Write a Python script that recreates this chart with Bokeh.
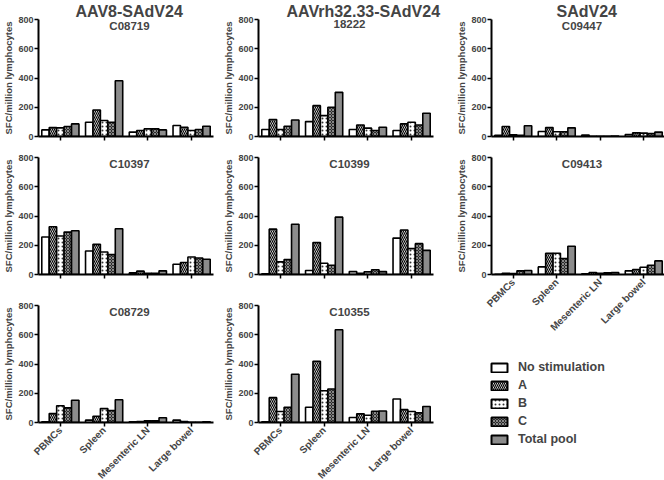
import math
from bokeh.plotting import figure
from bokeh.models import (FactorRange, Range1d, ColumnDataSource, Label, FixedTicker,
                          Legend, LegendItem, CustomJSTickFormatter)
from bokeh.transform import dodge
from bokeh.layouts import column, row
from bokeh.embed import file_html
from bokeh.resources import INLINE

tissues = ["PBMCs", "Spleen", "Mesenteric LN", "Large bowel"]
stims = ["No stimulation", "A", "B", "C", "Total pool"]
y_ticks = [0, 200, 400, 600, 800]
col_titles = ["AAV8-SAdV24", "AAVrh32.33-SAdV24", "SAdV24"]
y_label = "SFC/million lymphocytes"

# AAV8-SAdV24
C08719_none = [45, 97, 30, 75]
C08719_A = [61, 181, 41, 63]
C08719_B = [59, 109, 52, 41]
C08719_C = [68, 97, 52, 48]
C08719_total = [86, 381, 45, 70]

C10397_none = [256, 161, 11, 70]
C10397_A = [326, 206, 23, 82]
C10397_B = [263, 154, 9, 120]
C10397_C = [290, 136, 9, 113]
C10397_total = [299, 313, 25, 104]

C08729_none = [5, 16, 5, 16]
C08729_A = [61, 43, 7, 7]
C08729_B = [115, 95, 11, 2]
C08729_C = [100, 82, 11, 2]
C08729_total = [152, 156, 32, 5]

# AAVrh32.33-SAdV24
A18222_none = [48, 102, 48, 41]
A18222_A = [116, 211, 79, 86]
A18222_B = [48, 143, 57, 97]
A18222_C = [70, 200, 41, 79]
A18222_total = [113, 302, 63, 159]

C10399_none = [5, 27, 20, 249]
C10399_A = [310, 218, 9, 304]
C10399_B = [86, 77, 18, 177]
C10399_C = [102, 63, 32, 211]
C10399_total = [344, 392, 20, 165]

C10355_none = [5, 104, 34, 161]
C10355_A = [170, 419, 59, 88]
C10355_B = [75, 217, 50, 75]
C10355_C = [104, 229, 77, 66]
C10355_total = [330, 634, 79, 109]

# SAdV24
C09447_none = [9, 34, 10, 14]
C09447_A = [68, 61, 2, 25]
C09447_B = [11, 32, 2, 23]
C09447_C = [9, 32, 2, 20]
C09447_total = [73, 59, 3, 30]

C09413_none = [2, 52, 5, 25]
C09413_A = [9, 145, 14, 34]
C09413_B = [7, 145, 9, 50]
C09413_C = [25, 109, 11, 63]
C09413_total = [27, 193, 14, 93]

FONT = "Liberation Sans"
keys = ["none", "A", "B", "C", "total"]
offsets = [-0.34, -0.17, 0.0, 0.17, 0.34]
BAR_W = 0.17
styles = [
    dict(fill_color="white"),
    dict(fill_color="white", hatch_pattern="left_diagonal_line", hatch_color="black",
         hatch_scale=4, hatch_weight=1.2),
    dict(fill_color="white", hatch_pattern="dot", hatch_color="#333333",
         hatch_scale=4, hatch_weight=1.1),
    dict(fill_color="#2a2a2a", hatch_pattern="diagonal_cross", hatch_color="#b0b0b0",
         hatch_scale=3, hatch_weight=0.7),
    dict(fill_color="#8c8c8c"),
]

FH = 117          # frame height
BL = 32


def make_panel(name, vals, fw, br, bt, bb, show_labels, header=None, header_off=0):
    p = figure(x_range=FactorRange(factors=tissues), y_range=Range1d(0, 800),
               frame_width=fw, frame_height=FH, output_backend="svg",
               toolbar_location=None,
               min_border_left=BL, min_border_right=br, min_border_top=bt,
               min_border_bottom=bb)
    p.outline_line_color = None
    p.xgrid.visible = False
    p.ygrid.visible = False
    src = ColumnDataSource(dict(tissue=tissues, **{k: v for k, v in zip(keys, vals)}))
    for k, off, st in zip(keys, offsets, styles):
        p.vbar(x=dodge("tissue", off, range=p.x_range), top=k, bottom=0, width=BAR_W,
               source=src, line_color="black", line_width=1.6, **st)
    ya = p.yaxis[0]
    ya.ticker = FixedTicker(ticks=y_ticks)
    ya.minor_tick_line_color = None
    ya.axis_line_width = 2
    ya.major_tick_line_width = 1.5
    ya.major_tick_out = 4
    ya.major_tick_in = 0
    ya.major_label_standoff = 1
    ya.major_label_text_font = FONT
    ya.major_label_text_font_style = "bold"
    ya.major_label_text_font_size = "9px"
    ya.axis_label = y_label
    ya.axis_label_text_font = FONT
    ya.axis_label_text_font_style = "bold"
    ya.axis_label_text_font_size = "9.5px"
    ya.axis_label_standoff = 1
    xa = p.xaxis[0]
    xa.axis_line_width = 2
    xa.major_tick_line_width = 1.5
    xa.major_tick_out = 4
    xa.major_tick_in = 0
    xa.major_label_standoff = 2
    xa.major_label_text_font = FONT
    xa.major_label_text_font_style = "bold"
    xa.major_label_text_font_size = "10px"
    if show_labels:
        xa.major_label_orientation = math.pi / 4
    else:
        xa.formatter = CustomJSTickFormatter(code="return '';")
    p.add_layout(Label(x=2.08, y=800, text=name, text_align="center", text_baseline="top",
                       text_font=FONT, text_font_style="bold", text_font_size="11.5px"))
    if header:
        p.title.text = header
        p.title.align = "left"
        p.title.offset = header_off
        p.title.standoff = 0
        p.title.text_font = FONT
        p.title.text_font_style = "bold"
        p.title.text_font_size = "16px"
    return p


def vals(prefix):
    g = globals()
    return [g[prefix + "_" + k] for k in keys]


FW1, BR1 = 175, 7
FW2, BR2 = 175, 20
FW3, BR3 = 174, 1

col1 = column(
    make_panel("C08719", vals("C08719"), FW1, BR1, 18, 12, False, col_titles[0], 37),
    make_panel("C10397", vals("C10397"), FW1, BR1, 9, 14, False),
    make_panel("C08729", vals("C08729"), FW1, BR1, 17, 56, True),
)
col2 = column(
    make_panel("18222", vals("A18222"), FW2, BR2, 18, 12, False, col_titles[1], 28),
    make_panel("C10399", vals("C10399"), FW2, BR2, 9, 14, False),
    make_panel("C10355", vals("C10355"), FW2, BR2, 17, 56, True),
)

# legend panel
lg = figure(frame_width=BL + FW3 + BR3, frame_height=146, output_backend="svg",
            toolbar_location=None, x_axis_location=None, y_axis_location=None,
            min_border=0, x_range=Range1d(0, 1), y_range=Range1d(0, 1))
lg.outline_line_color = None
lg.xgrid.visible = False
lg.ygrid.visible = False
swatch_src = ColumnDataSource(dict(x=[0.5], top=[0.5]))
items = []
for s, st in zip(stims, styles):
    r = lg.vbar(x="x", top="top", width=0.1, source=swatch_src,
                line_color="black", line_width=2, **st)
    r.visible = False
    items.append(LegendItem(label=s, renderers=[r]))
legend = Legend(items=items, location=(36, 39), padding=0, margin=0, spacing=4,
                glyph_width=20, glyph_height=11, label_height=13, label_standoff=9,
                label_text_font=FONT, label_text_font_style="bold",
                label_text_font_size="12.5px", border_line_color=None,
                background_fill_alpha=0, inactive_fill_alpha=0)
lg.add_layout(legend)

col3 = column(
    make_panel("C09447", vals("C09447"), FW3, BR3, 18, 12, False, col_titles[2], 65),
    make_panel("C09413", vals("C09413"), FW3, BR3, 9, 56, True),
    lg,
)

layout = row(col1, col2, col3)
open("out.html", "w").write(file_html(layout, INLINE))
